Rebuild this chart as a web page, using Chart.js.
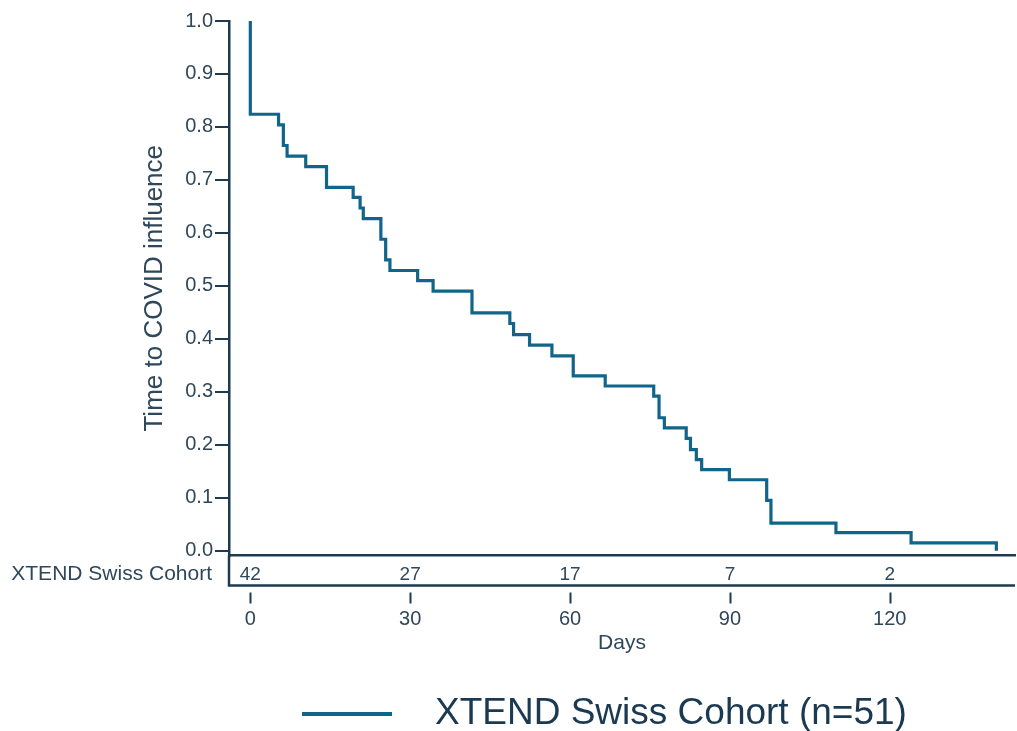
<!DOCTYPE html>
<html>
<head>
<meta charset="utf-8">
<title>XTEND Swiss Cohort</title>
<script src="https://cdn.jsdelivr.net/npm/chart.js@4.4.1/dist/chart.umd.min.js"></script>
<style>
    html, body { margin: 0; padding: 0; background: #fff; }
    #kmChart { display: block; }
</style>
</head>
<body>
<canvas id="kmChart" width="1017" height="731"></canvas>
<script>
// Kaplan-Meier steps
const days = [0, 0, 5.3, 6.2, 6.9, 10.4, 14.3, 19.3, 20.6, 21.2, 24.5, 25.4, 26.2, 31.4, 34.3,
    41.6, 48.7, 49.4, 52.4, 56.6, 60.6, 66.6, 75.7, 76.7, 77.7, 81.8, 82.6, 83.7, 84.7,
    89.9, 96.9, 97.7, 109.9, 124.0, 140.0];
const survival = [1.0, 0.824, 0.804, 0.765, 0.745, 0.725, 0.686, 0.667, 0.647, 0.627, 0.588, 0.549, 0.529, 0.510, 0.490,
    0.449, 0.429, 0.408, 0.388, 0.368, 0.330, 0.311, 0.292, 0.251, 0.232, 0.212, 0.191, 0.172, 0.153,
    0.134, 0.095, 0.052, 0.034, 0.015, 0.0];

const xTicks = [0, 30, 60, 90, 120];
const yTicks = [0, 0.1, 0.2, 0.3, 0.4, 0.5, 0.6, 0.7, 0.8, 0.9, 1.0];

// numbers at risk
const riskLabel = 'XTEND Swiss Cohort';
const riskDays = [0, 30, 60, 90, 120];
const riskCounts = [42, 27, 17, 7, 2];

const legendText = 'XTEND Swiss Cohort (n=51)';

const lineColor = '#12658a';
const axisColor = '#1c3a50';
const textColor = '#2f475b';
const fontFamily = '"Liberation Sans", Arial, sans-serif';

const riskTable = {
    id: 'riskTable',
    afterDraw(chart) {
        const ctx = chart.ctx;
        const x = chart.scales.x;
        const area = chart.chartArea;
        const rowTop = area.bottom;
        const rowBottom = area.bottom + 30;

        ctx.save();
        ctx.strokeStyle = axisColor;
        ctx.lineWidth = 2.5;
        ctx.beginPath();
        ctx.moveTo(area.left, rowTop);
        ctx.lineTo(area.left, rowBottom);
        ctx.lineTo(area.right, rowBottom);
        ctx.stroke();

        ctx.fillStyle = textColor;
        ctx.textBaseline = 'middle';
        ctx.font = `21px ${fontFamily}`;
        ctx.textAlign = 'right';
        ctx.fillText(riskLabel, 212, rowTop + 19);

        ctx.font = `19px ${fontFamily}`;
        ctx.textAlign = 'center';
        riskDays.forEach((d, i) => {
            ctx.fillText(String(riskCounts[i]), x.getPixelForValue(d), rowTop + 19);
        });

        // small tick marks under the table
        ctx.lineWidth = 2;
        xTicks.forEach(d => {
            const px = Math.round(x.getPixelForValue(d)) + 0.5;
            ctx.beginPath();
            ctx.moveTo(px, rowBottom + 7);
            ctx.lineTo(px, rowBottom + 18);
            ctx.stroke();
        });

        // legend
        ctx.strokeStyle = lineColor;
        ctx.lineWidth = 4;
        ctx.beginPath();
        ctx.moveTo(302, 714);
        ctx.lineTo(392, 714);
        ctx.stroke();
        ctx.fillStyle = '#1b3a52';
        ctx.font = `37px ${fontFamily}`;
        ctx.textAlign = 'left';
        ctx.fillText(legendText, 435, 714);
        ctx.restore();
    }
};

new Chart(document.getElementById('kmChart'), {
    type: 'line',
    data: {
        datasets: [{
            label: legendText,
            data: days.map((d, i) => ({ x: d, y: survival[i] })),
            stepped: 'before',
            borderColor: lineColor,
            backgroundColor: lineColor,
            borderWidth: 3.2,
            pointRadius: 0,
            fill: false
        }]
    },
    options: {
        responsive: false,
        animation: false,
        devicePixelRatio: 1,
        layout: { padding: { top: 21, right: 2, left: 0, bottom: 0 } },
        plugins: {
            legend: { display: false },
            tooltip: { enabled: false }
        },
        scales: {
            x: {
                type: 'linear',
                min: -4,
                max: 143.5,
                afterFit: s => { s.height = 175.5; },
                afterBuildTicks: s => { s.ticks = xTicks.map(v => ({ value: v })); },
                grid: { display: false, drawTicks: false },
                border: { display: true, color: axisColor, width: 2.5 },
                ticks: {
                    padding: 52,
                    color: textColor,
                    font: { family: fontFamily, size: 20 }
                },
                title: {
                    display: true,
                    text: 'Days',
                    color: textColor,
                    font: { family: fontFamily, size: 21 },
                    padding: { top: 0, bottom: 75 }
                }
            },
            y: {
                min: -0.009,
                max: 1.0,
                afterFit: s => { s.width = 229; },
                afterBuildTicks: s => { s.ticks = yTicks.map(v => ({ value: v })); },
                grid: {
                    display: true,
                    drawOnChartArea: false,
                    drawTicks: true,
                    tickLength: 14,
                    color: axisColor,
                    lineWidth: 2
                },
                border: { display: true, color: axisColor, width: 2.5 },
                ticks: {
                    padding: 2,
                    color: textColor,
                    font: { family: fontFamily, size: 20 },
                    callback: v => v.toFixed(1)
                },
                title: {
                    display: true,
                    text: 'Time to COVID influence',
                    color: textColor,
                    font: { family: fontFamily, size: 26 },
                    padding: { top: 139, bottom: 0 }
                }
            }
        }
    },
    plugins: [riskTable]
});
</script>
</body>
</html>
